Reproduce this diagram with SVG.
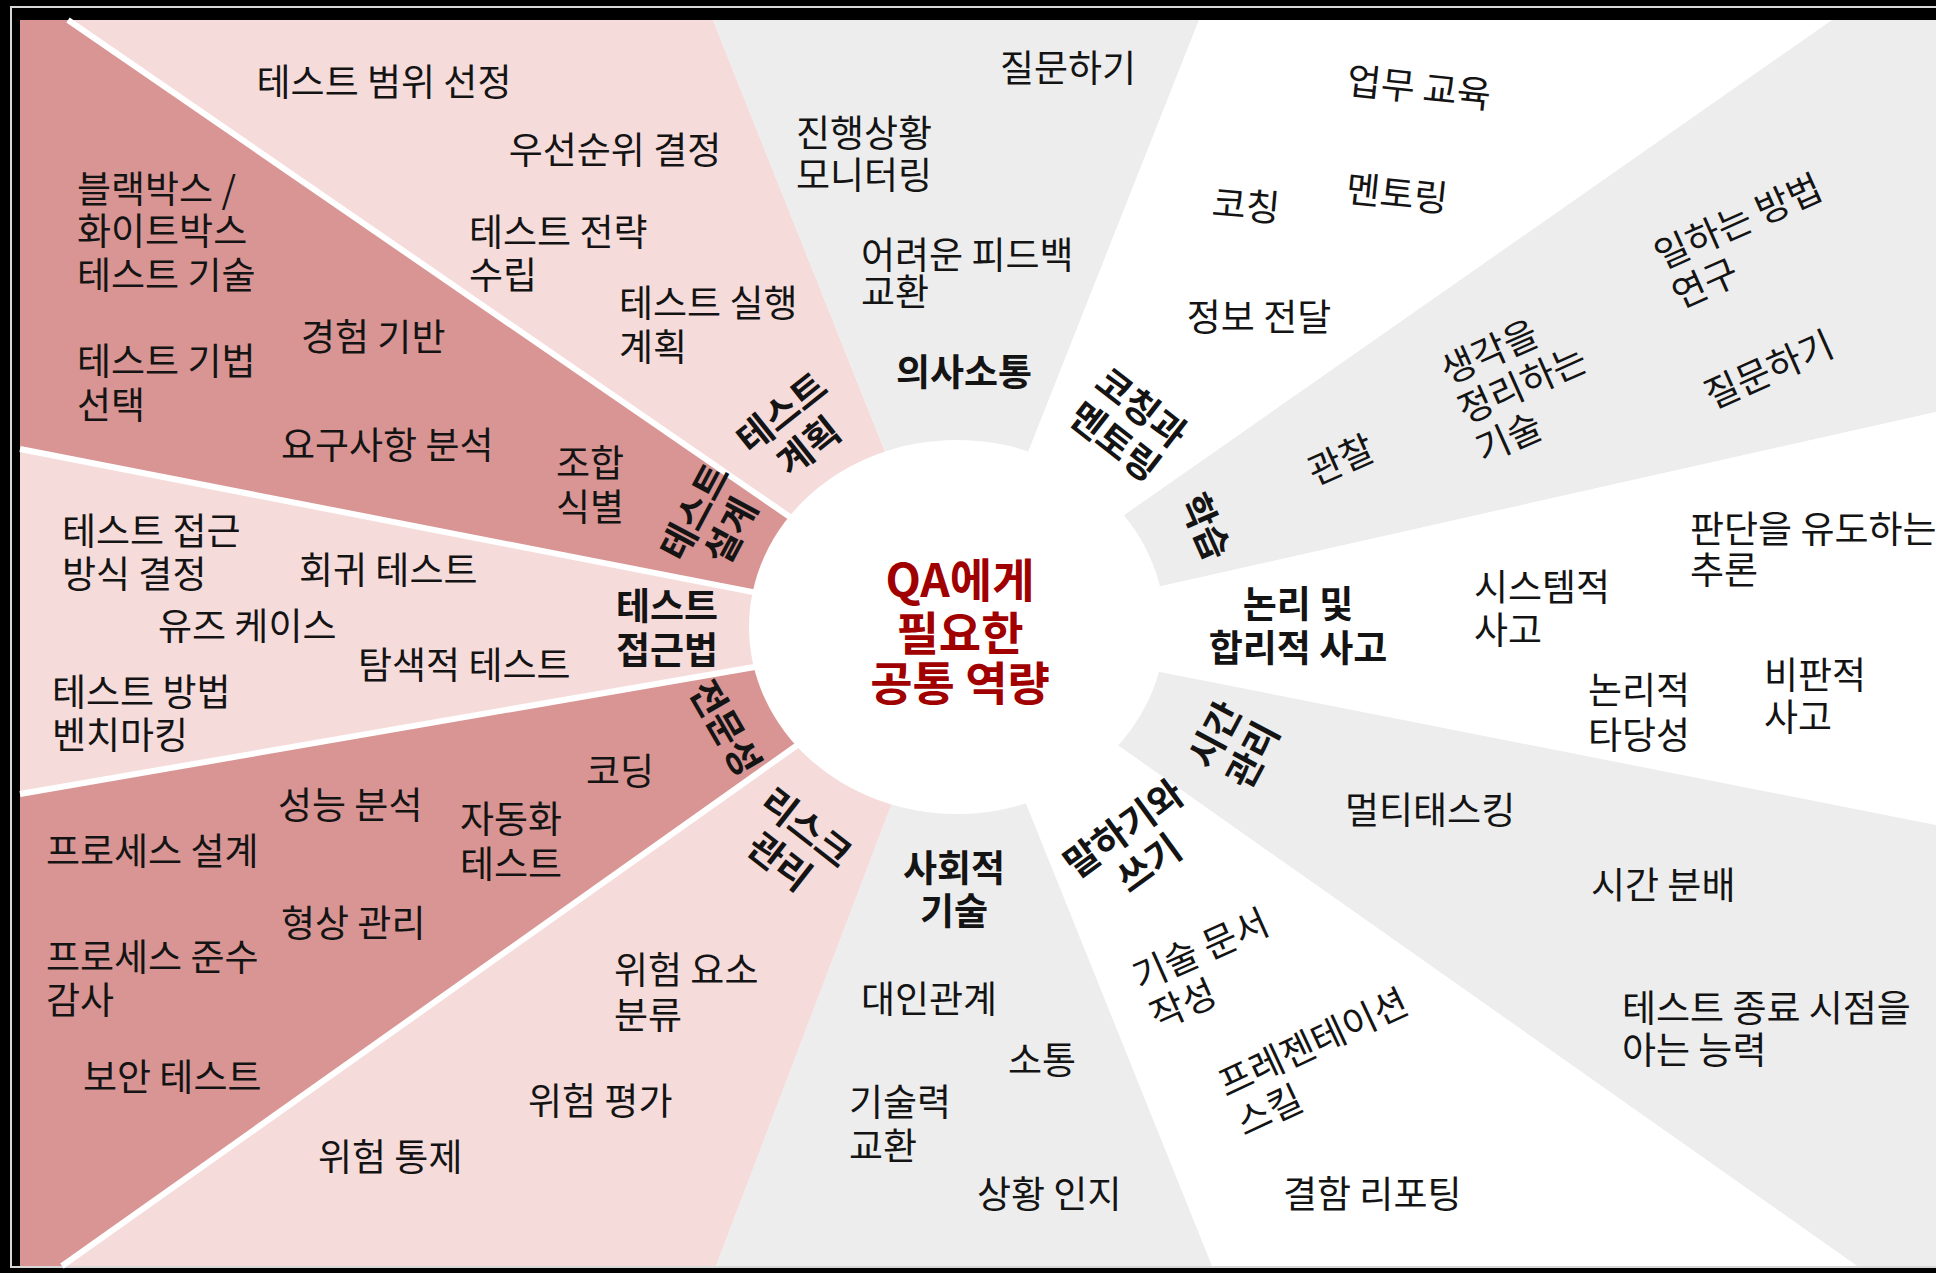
<svg xmlns="http://www.w3.org/2000/svg" width="1936" height="1273" viewBox="0 0 1936 1273">
<style>
text{font-family:"Noto Sans CJK KR","Noto Sans",sans-serif;font-size:37px;fill:#141414}
.m{text-anchor:middle}
.b{font-weight:700}
.lp{fill:#F6DBDB}
.dp{fill:#D89593}
.gr{fill:#EDEDED}
.wh{fill:#FFFFFF}
.sep{stroke:#FFFFFF;stroke-width:6;fill:none}
.title{font-size:46px;font-weight:700;fill:#A00000;text-anchor:middle}
</style>
<rect x="0" y="0" width="1936" height="1273" fill="#000"/>
<rect x="11" y="7" width="1940" height="1260" fill="none" stroke="#D8D8D8" stroke-width="2"/>
<rect x="20" y="20" width="1916" height="1246" fill="#FFFFFF"/>

<g id="wedges">
<polygon class="lp" points="957,632 68,20 713,20"/>
<polygon class="gr" points="957,632 713,20 1199,20"/>
<polygon class="wh" points="957,632 1199,20 1832,20"/>
<polygon class="gr" points="957,632 1832,20 1936,20 1936,412"/>
<polygon class="wh" points="957,632 1936,412 1936,825"/>
<polygon class="gr" points="957,632 1936,825 1936,1266 1857,1266"/>
<polygon class="wh" points="957,632 1857,1266 1212,1266"/>
<polygon class="gr" points="957,632 1212,1266 716,1266"/>
<polygon class="lp" points="957,632 716,1266 62,1266"/>
<polygon class="dp" points="957,632 62,1266 20,1266 20,794"/>
<polygon class="lp" points="957,632 20,794 20,449"/>
<polygon class="dp" points="957,632 20,449 20,20 68,20"/>
</g>

<g id="connectors">
<line class="sep" x1="957" y1="632" x2="68" y2="20"/>
<line class="sep" x1="957" y1="632" x2="20" y2="449"/>
<line class="sep" x1="957" y1="632" x2="20" y2="794"/>
<line class="sep" x1="957" y1="632" x2="62" y2="1266"/>
</g>

<g id="center">
<ellipse cx="957" cy="627" rx="208" ry="187" fill="#FFFFFF"/>
<text class="title" x="960" y="597">QA에게</text>
<text class="title" x="960" y="650">필요한</text>
<text class="title" x="960" y="700">공통 역량</text>
</g>

<g id="test-plan">
<g transform="translate(782,413) rotate(-38.6)"><text class="m b" x="0" y="13">테스트</text><text class="m b" x="0" y="56">계획</text></g>
<text class="m" x="384" y="96">테스트 범위 선정</text>
<text class="m" x="615" y="164">우선순위 결정</text>
<text x="469" y="246">테스트 전략</text>
<text x="469" y="289">수립</text>
<text x="619" y="317">테스트 실행</text>
<text x="619" y="361">계획</text>
</g>

<g id="test-design">
<g transform="translate(695,512) rotate(-62)"><text class="m b" x="0" y="13">테스트</text><text class="m b" x="0" y="54">설계</text></g>
<text x="77" y="203">블랙박스 /</text>
<text x="77" y="245">화이트박스</text>
<text x="77" y="289">테스트 기술</text>
<text x="301" y="351">경험 기반</text>
<text x="77" y="375">테스트 기법</text>
<text x="77" y="419">선택</text>
<text x="281" y="459">요구사항 분석</text>
<text x="556" y="477">조합</text>
<text x="556" y="521">식별</text>
</g>

<g id="test-approach">
<text class="m b" x="667" y="620">테스트</text>
<text class="m b" x="667" y="664">접근법</text>
<text x="62" y="545">테스트 접근</text>
<text x="62" y="588">방식 결정</text>
<text x="299" y="584">회귀 테스트</text>
<text x="158" y="640">유즈 케이스</text>
<text x="358" y="679">탐색적 테스트</text>
<text x="52" y="706">테스트 방법</text>
<text x="52" y="749">벤치마킹</text>
</g>

<g id="expertise">
<g transform="translate(725,728) rotate(60)"><text class="m b" x="0" y="13">전문성</text></g>
<text x="586" y="785">코딩</text>
<text x="278" y="819">성능 분석</text>
<text x="460" y="833">자동화</text>
<text x="460" y="878">테스트</text>
<text x="46" y="865">프로세스 설계</text>
<text x="281" y="937">형상 관리</text>
<text x="46" y="971">프로세스 준수</text>
<text x="46" y="1014">감사</text>
<text x="83" y="1091">보안 테스트</text>
</g>

<g id="risk">
<g transform="translate(806,828) rotate(38)"><text class="m b" x="0" y="13">리스크</text><text class="m b" x="0" y="56">관리</text></g>
<text x="614" y="984">위험 요소</text>
<text x="614" y="1029">분류</text>
<text x="528" y="1115">위험 평가</text>
<text x="318" y="1171">위험 통제</text>
</g>

<g id="social">
<text class="m b" x="954" y="882">사회적</text>
<text class="m b" x="954" y="925">기술</text>
<text x="861" y="1013">대인관계</text>
<text x="1008" y="1074">소통</text>
<text x="849" y="1116">기술력</text>
<text x="849" y="1160">교환</text>
<text x="977" y="1208">상황 인지</text>
</g>

<g id="speaking-writing">
<g transform="translate(1124,829) rotate(-36)"><text class="m b" x="0" y="13">말하기와</text><text class="m b" x="0" y="56">쓰기</text></g>
<g transform="translate(1140,991) rotate(-24)"><text x="0" y="0">기술 문서</text><text x="0" y="43">작성</text></g>
<g transform="translate(1226,1098) rotate(-25)"><text x="0" y="0">프레젠테이션</text><text x="0" y="43">스킬</text></g>
<text x="1283" y="1208">결함 리포팅</text>
</g>

<g id="time">
<g transform="translate(1215,735) rotate(-62)"><text class="m b" x="0" y="13">시간</text><text class="m b" x="0" y="56">관리</text></g>
<text x="1345" y="824">멀티태스킹</text>
<text x="1591" y="899">시간 분배</text>
<text x="1622" y="1022">테스트 종료 시점을</text>
<text x="1622" y="1064">아는 능력</text>
</g>

<g id="logic">
<text class="m b" x="1298" y="618">논리 및</text>
<text class="m b" x="1298" y="662">합리적 사고</text>
<text x="1474" y="601">시스템적</text>
<text x="1474" y="644">사고</text>
<text x="1690" y="543">판단을 유도하는</text>
<text x="1690" y="584">추론</text>
<text x="1588" y="704">논리적</text>
<text x="1588" y="749">타당성</text>
<text x="1764" y="689">비판적</text>
<text x="1764" y="731">사고</text>
</g>

<g id="learning">
<g transform="translate(1205,527) rotate(66)"><text class="m b" x="0" y="13">학습</text></g>
<g transform="translate(1341,460) rotate(-24)"><text class="m" x="0" y="13">관찰</text></g>
<g transform="translate(1448,385) rotate(-24)"><text x="0" y="0">생각을</text><text x="0" y="43">정리하는</text><text x="0" y="86">기술</text></g>
<g transform="translate(1662,270) rotate(-24)"><text x="0" y="0">일하는 방법</text><text x="0" y="43">연구</text></g>
<g transform="translate(1769,370) rotate(-24)"><text class="m" x="0" y="13">질문하기</text></g>
</g>

<g id="coaching">
<g transform="translate(1141,408) rotate(38)"><text class="m b" x="0" y="13">코칭과</text><text class="m b" x="0" y="56">멘토링</text></g>
<g transform="translate(1419,88) rotate(6)"><text class="m" x="0" y="13">업무 교육</text></g>
<g transform="translate(1397,194) rotate(6)"><text class="m" x="0" y="13">멘토링</text></g>
<g transform="translate(1246,206) rotate(5)"><text class="m" x="0" y="13">코칭</text></g>
<text class="m" x="1259" y="331">정보 전달</text>
</g>

<g id="communication">
<text class="m b" x="964" y="386">의사소통</text>
<text class="m" x="1068" y="82">질문하기</text>
<text x="796" y="147">진행상황</text>
<text x="796" y="189">모니터링</text>
<text x="861" y="269">어려운 피드백</text>
<text x="861" y="306">교환</text>
</g>
</svg>
